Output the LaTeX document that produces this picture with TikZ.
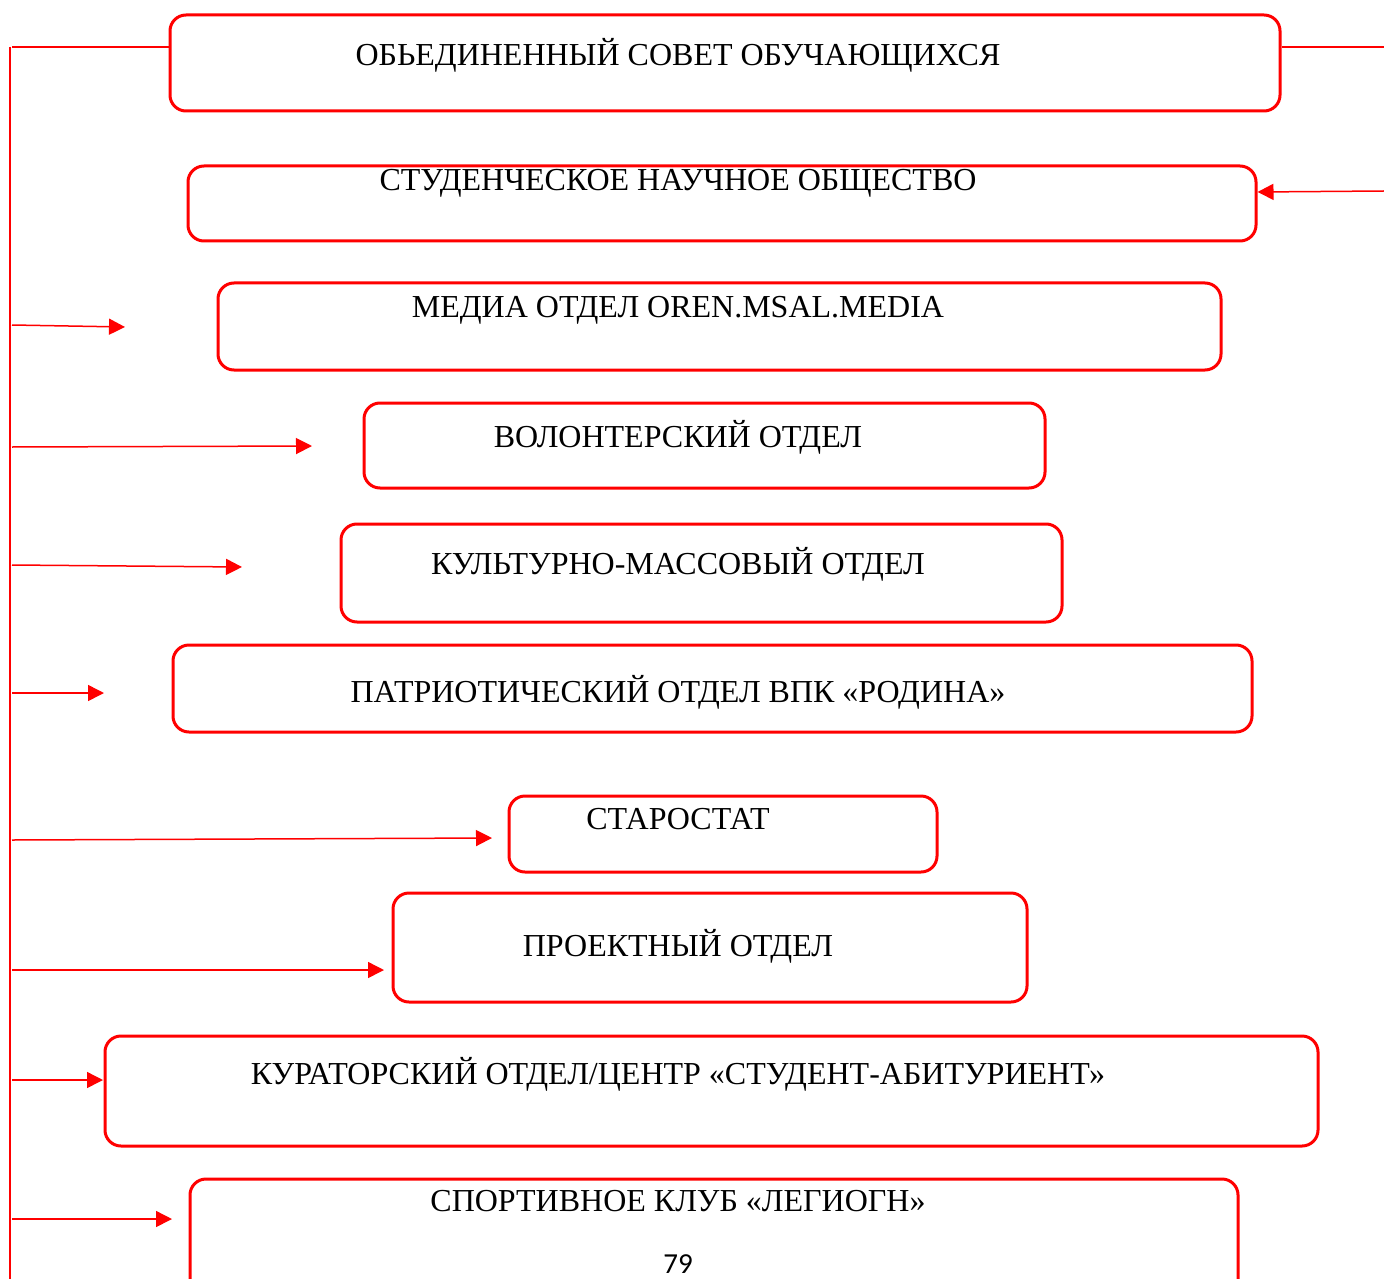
\documentclass[tikz,border=0pt]{standalone}
\usepackage{fontspec}
\setmainfont{Liberation Serif}
\newfontfamily\pagenumfont{Carlito}
\usetikzlibrary{arrows.meta}
\begin{document}
\begin{tikzpicture}[x=0.5pt,y=-0.5pt,
  box/.style={draw=red, line width=1.5pt, rounded corners=8pt, inner sep=0pt},
  lbl/.style={font=\fontsize{16pt}{19pt}\selectfont, inner sep=0pt},
  conn/.style={draw=red, line width=0.75pt},
  arr/.style={conn, -{Triangle[length=8pt,width=8pt]}}]
\clip (0,0) rectangle (1384,1278);
\useasboundingbox (0,0) rectangle (1384,1278);
% boxes
\node[box, minimum width=555pt, minimum height=48pt] (b1) at (725,63) {};
\node[box, minimum width=534pt, minimum height=37.5pt] (b2) at (722,203.5) {};
\node[box, minimum width=501.5pt, minimum height=43.5pt] (b3) at (719.5,326.5) {};
\node[box, minimum width=340.5pt, minimum height=42.5pt] (b4) at (704.5,445.5) {};
\node[box, minimum width=360.5pt, minimum height=49pt] (b5) at (701.5,573) {};
\node[box, minimum width=539.5pt, minimum height=43.5pt] (b6) at (712.5,688.5) {};
\node[box, minimum width=214pt, minimum height=38pt] (b7) at (723,834) {};
\node[box, minimum width=317pt, minimum height=54.5pt] (b8) at (710,947.5) {};
\node[box, minimum width=606.5pt, minimum height=55pt] (b9) at (711.5,1091) {};
\node[box, minimum width=524pt, minimum height=60pt] (b10) at (714,1239) {};
% texts
\node[lbl] (t1) at (678,55) {ОБЬЕДИНЕННЫЙ СОВЕТ ОБУЧАЮЩИХСЯ};
\node[lbl] (t2) at (678,183) {СТУДЕНЧЕСКОЕ НАУЧНОЕ ОБЩЕСТВО};
\node[lbl] (t3) at (678,310) {МЕДИА ОТДЕЛ OREN.MSAL.MEDIA};
\node[lbl] (t4) at (678,437) {ВОЛОНТЕРСКИЙ ОТДЕЛ};
\node[lbl] (t5) at (678,564) {КУЛЬТУРНО-МАССОВЫЙ ОТДЕЛ};
\node[lbl] (t6) at (678,692) {ПАТРИОТИЧЕСКИЙ ОТДЕЛ ВПК «РОДИНА»};
\node[lbl] (t7) at (678,819) {СТАРОСТАТ};
\node[lbl] (t8) at (678,946) {ПРОЕКТНЫЙ ОТДЕЛ};
\node[lbl] (t9) at (678,1074) {КУРАТОРСКИЙ ОТДЕЛ/ЦЕНТР «СТУДЕНТ-АБИТУРИЕНТ»};
\node[lbl] (t10) at (678,1201) {СПОРТИВНОЕ КЛУБ «ЛЕГИОГН»};
\node[font=\pagenumfont\fontsize{14.5pt}{17pt}\selectfont, inner sep=0pt] (pg) at (678,1264) {79};
% left spine
\coordinate (top) at (10,47);
\coordinate (bot) at (10,1280);
\coordinate (h0) at (12,47);
\draw[conn] (top) -- (bot);
\draw[conn] (h0) -- (b1.west |- h0);
% right side
\coordinate (r1) at (1384,47);
\draw[conn] (b1.east |- r1) -- (r1);
\coordinate (r2) at (1384,191);
\draw[arr] (r2) -- (b2.east |- 0,192);
% left arrows
\coordinate (a3s) at (12,325);  \coordinate (a3e) at (125,327);
\coordinate (a4s) at (12,447);  \coordinate (a4e) at (312,446);
\coordinate (a5s) at (12,565);  \coordinate (a5e) at (242,567);
\coordinate (a6s) at (12,693);  \coordinate (a6e) at (104,693);
\coordinate (a7s) at (12,840);  \coordinate (a7e) at (492,838);
\coordinate (a8s) at (12,970);  \coordinate (a8e) at (384,970);
\coordinate (a9s) at (12,1080); \coordinate (a9e) at (103,1080);
\coordinate (a10s) at (12,1219); \coordinate (a10e) at (172,1219);
\foreach \i in {3,...,10} {\draw[arr] (a\i s) -- (a\i e);}
\end{tikzpicture}
\end{document}
